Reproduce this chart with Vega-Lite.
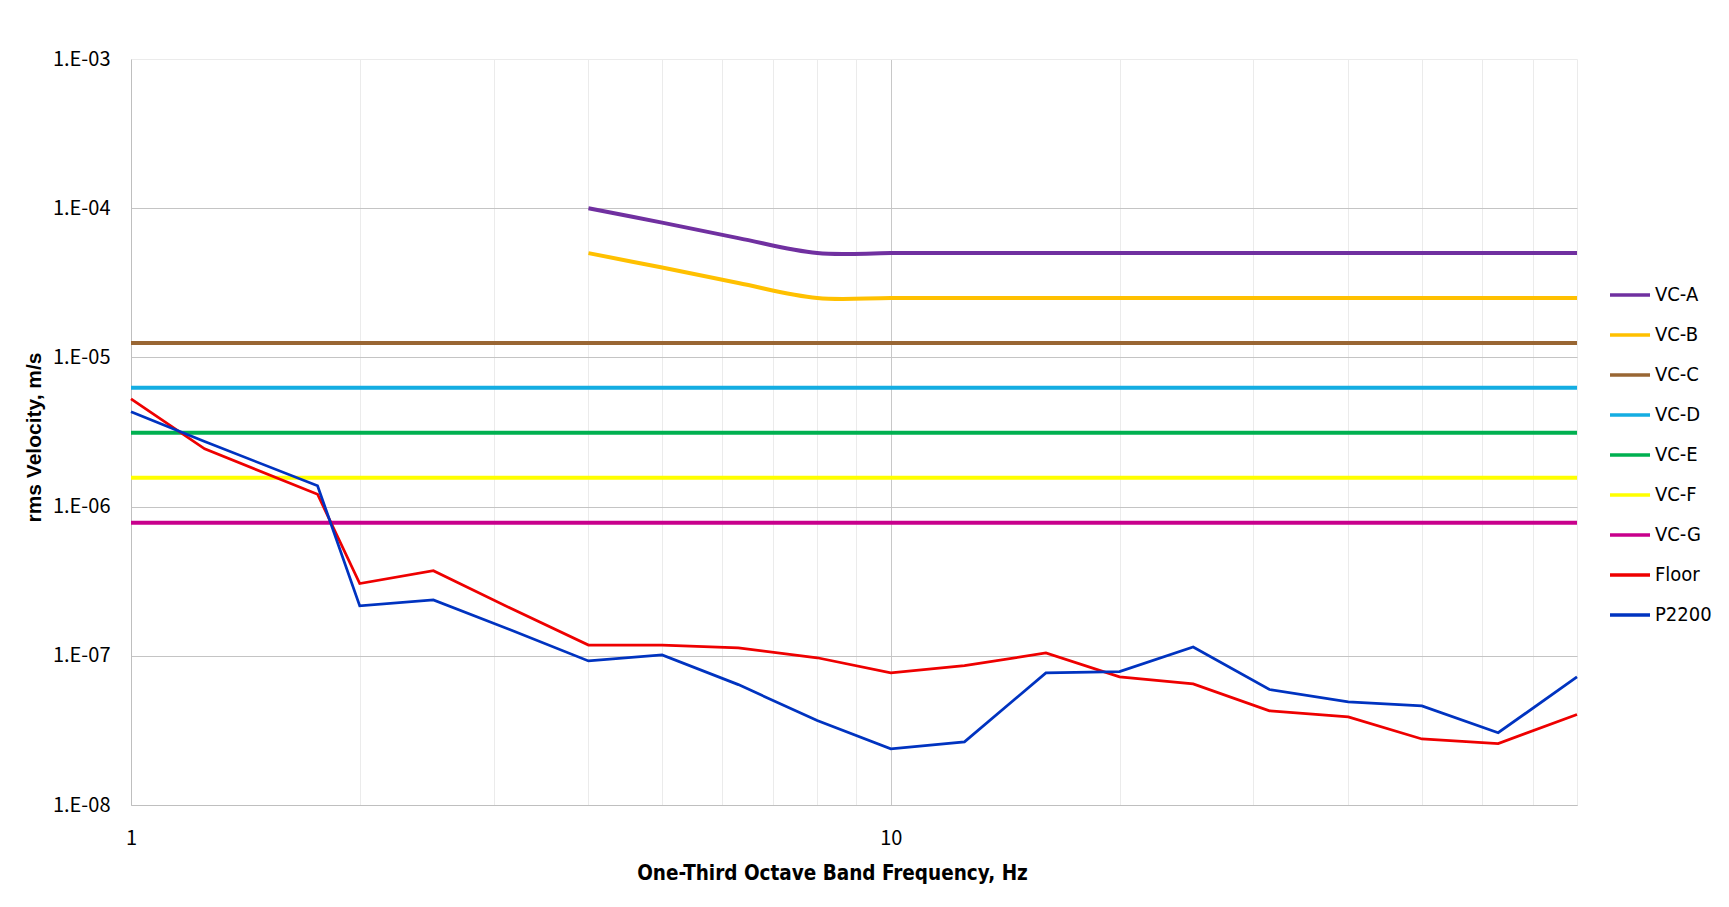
{
  "$schema": "https://vega.github.io/schema/vega-lite/v6.json",
  "width": 1446,
  "height": 746,
  "autosize": {"type": "none"},
  "padding": {"left": 131, "top": 59, "right": 152, "bottom": 102},
  "background": "white",
  "data": {
    "values": [
      {"series": "VC-A", "freq": 4, "v": 1.0e-4},
      {"series": "VC-A", "freq": 5, "v": 8.0e-5},
      {"series": "VC-A", "freq": 6.3, "v": 6.3e-5},
      {"series": "VC-A", "freq": 8, "v": 5.0e-5},
      {"series": "VC-A", "freq": 10, "v": 5.0e-5},
      {"series": "VC-A", "freq": 12.5, "v": 5.0e-5},
      {"series": "VC-A", "freq": 16, "v": 5.0e-5},
      {"series": "VC-A", "freq": 20, "v": 5.0e-5},
      {"series": "VC-A", "freq": 25, "v": 5.0e-5},
      {"series": "VC-A", "freq": 31.5, "v": 5.0e-5},
      {"series": "VC-A", "freq": 40, "v": 5.0e-5},
      {"series": "VC-A", "freq": 50, "v": 5.0e-5},
      {"series": "VC-A", "freq": 63, "v": 5.0e-5},
      {"series": "VC-A", "freq": 80, "v": 5.0e-5},
      {"series": "VC-B", "freq": 4, "v": 5.0e-5},
      {"series": "VC-B", "freq": 5, "v": 4.0e-5},
      {"series": "VC-B", "freq": 6.3, "v": 3.15e-5},
      {"series": "VC-B", "freq": 8, "v": 2.5e-5},
      {"series": "VC-B", "freq": 10, "v": 2.5e-5},
      {"series": "VC-B", "freq": 12.5, "v": 2.5e-5},
      {"series": "VC-B", "freq": 16, "v": 2.5e-5},
      {"series": "VC-B", "freq": 20, "v": 2.5e-5},
      {"series": "VC-B", "freq": 25, "v": 2.5e-5},
      {"series": "VC-B", "freq": 31.5, "v": 2.5e-5},
      {"series": "VC-B", "freq": 40, "v": 2.5e-5},
      {"series": "VC-B", "freq": 50, "v": 2.5e-5},
      {"series": "VC-B", "freq": 63, "v": 2.5e-5},
      {"series": "VC-B", "freq": 80, "v": 2.5e-5},
      {"series": "VC-C", "freq": 1, "v": 1.25e-5},
      {"series": "VC-C", "freq": 80, "v": 1.25e-5},
      {"series": "VC-D", "freq": 1, "v": 6.25e-6},
      {"series": "VC-D", "freq": 80, "v": 6.25e-6},
      {"series": "VC-E", "freq": 1, "v": 3.125e-6},
      {"series": "VC-E", "freq": 80, "v": 3.125e-6},
      {"series": "VC-F", "freq": 1, "v": 1.5625e-6},
      {"series": "VC-F", "freq": 80, "v": 1.5625e-6},
      {"series": "VC-G", "freq": 1, "v": 7.8e-7},
      {"series": "VC-G", "freq": 80, "v": 7.8e-7},
      {"series": "Floor", "freq": 1, "v": 5.28e-6},
      {"series": "Floor", "freq": 1.25, "v": 2.44e-6},
      {"series": "Floor", "freq": 1.76, "v": 1.21e-6},
      {"series": "Floor", "freq": 2, "v": 3.05e-7},
      {"series": "Floor", "freq": 2.5, "v": 3.72e-7},
      {"series": "Floor", "freq": 3.15, "v": 2.1e-7},
      {"series": "Floor", "freq": 4, "v": 1.18e-7},
      {"series": "Floor", "freq": 5, "v": 1.18e-7},
      {"series": "Floor", "freq": 6.3, "v": 1.13e-7},
      {"series": "Floor", "freq": 8, "v": 9.7e-8},
      {"series": "Floor", "freq": 10, "v": 7.68e-8},
      {"series": "Floor", "freq": 12.5, "v": 8.6e-8},
      {"series": "Floor", "freq": 16, "v": 1.045e-7},
      {"series": "Floor", "freq": 20, "v": 7.22e-8},
      {"series": "Floor", "freq": 25, "v": 6.48e-8},
      {"series": "Floor", "freq": 31.5, "v": 4.28e-8},
      {"series": "Floor", "freq": 40, "v": 3.9e-8},
      {"series": "Floor", "freq": 50, "v": 2.77e-8},
      {"series": "Floor", "freq": 63, "v": 2.58e-8},
      {"series": "Floor", "freq": 80, "v": 4.04e-8},
      {"series": "P2200", "freq": 1, "v": 4.32e-6},
      {"series": "P2200", "freq": 1.25, "v": 2.73e-6},
      {"series": "P2200", "freq": 1.76, "v": 1.38e-6},
      {"series": "P2200", "freq": 2, "v": 2.16e-7},
      {"series": "P2200", "freq": 2.5, "v": 2.37e-7},
      {"series": "P2200", "freq": 3.15, "v": 1.5e-7},
      {"series": "P2200", "freq": 4, "v": 9.24e-8},
      {"series": "P2200", "freq": 5, "v": 1.014e-7},
      {"series": "P2200", "freq": 6.3, "v": 6.41e-8},
      {"series": "P2200", "freq": 8, "v": 3.68e-8},
      {"series": "P2200", "freq": 10, "v": 2.38e-8},
      {"series": "P2200", "freq": 12.5, "v": 2.65e-8},
      {"series": "P2200", "freq": 16, "v": 7.68e-8},
      {"series": "P2200", "freq": 20, "v": 7.83e-8},
      {"series": "P2200", "freq": 25, "v": 1.146e-7},
      {"series": "P2200", "freq": 31.5, "v": 5.94e-8},
      {"series": "P2200", "freq": 40, "v": 4.91e-8},
      {"series": "P2200", "freq": 50, "v": 4.62e-8},
      {"series": "P2200", "freq": 63, "v": 3.05e-8},
      {"series": "P2200", "freq": 80, "v": 7.22e-8}
    ]
  },
  "encoding": {
    "x": {
      "field": "freq",
      "type": "quantitative",
      "scale": {"type": "log", "domain": [1, 80]},
      "axis": {
        "values": [1, 2, 3, 4, 5, 6, 7, 8, 9, 10, 20, 30, 40, 50, 60, 70, 80],
        "labelExpr": "datum.value == 1 ? '1' : datum.value == 10 ? '10' : ''",
        "labelFlush": false,
        "labelOverlap": false,
        "grid": true,
        "gridColor": {"condition": {"test": "datum.value == 10", "value": "#c8c8c8"}, "value": "#ebebeb"},
        "ticks": false,
        "domainColor": "#bfbfbf",
        "labelFont": "Noto Sans CJK KR",
        "labelFontSize": 20,
        "labelColor": "#000000",
        "labelPadding": 23,
        "title": "One-Third Octave Band Frequency, Hz",
        "titleFont": "DejaVu Sans Condensed, Roboto, sans-serif",
        "titleFontWeight": "bold",
        "titleFontSize": 20.5,
        "titleColor": "#000000",
        "titleX": 701,
        "titleY": 68,
        "titleAlign": "center",
        "titleBaseline": "middle"
      }
    },
    "y": {
      "field": "v",
      "type": "quantitative",
      "scale": {"type": "log", "domain": [1e-8, 1e-3]},
      "axis": {
        "values": [1e-8, 1e-7, 1e-6, 1e-5, 1e-4, 1e-3],
        "labelExpr": "'1.E-0' + round(-log(datum.value) / LN10)",
        "grid": true,
        "gridColor": {"condition": {"test": "datum.value > 5e-4", "value": "#ebebeb"}, "value": "#c4c4c4"},
        "ticks": false,
        "domainColor": "#bfbfbf",
        "labelFont": "Noto Sans CJK KR",
        "labelFontSize": 20,
        "labelColor": "#000000",
        "labelPadding": 21,
        "title": "rms Velocity, m/s",
        "titleFont": "Liberation Sans",
        "titleFontWeight": "bold",
        "titleFontSize": 21,
        "titleColor": "#000000",
        "titleX": -97,
        "titleY": 378,
        "titleAlign": "center",
        "titleBaseline": "middle"
      }
    },
    "color": {
      "field": "series",
      "type": "nominal",
      "scale": {
        "domain": ["VC-A", "VC-B", "VC-C", "VC-D", "VC-E", "VC-F", "VC-G", "Floor", "P2200"],
        "range": ["#7030a0", "#ffc000", "#996633", "#14ade2", "#00b050", "#ffff00", "#c8008c", "#ee0000", "#0033c0"]
      },
      "legend": {
        "orient": "none",
        "legendX": 1477,
        "legendY": 214,
        "title": null,
        "symbolType": "stroke",
        "symbolSize": 1600,
        "symbolStrokeWidth": 3.5,
        "labelFont": "DejaVu Sans Condensed, Roboto, sans-serif",
        "labelFontSize": 20,
        "labelColor": "#000000",
        "labelOffset": 3,
        "rowPadding": 8,
        "labelLimit": 200
      }
    }
  },
  "layer": [
    {
      "transform": [{"filter": {"field": "series", "oneOf": ["VC-A", "VC-B", "VC-C", "VC-D", "VC-E", "VC-F", "VC-G"]}}],
      "mark": {"type": "line", "interpolate": "catmull-rom", "strokeWidth": 4}
    },
    {
      "transform": [{"filter": {"field": "series", "oneOf": ["Floor", "P2200"]}}],
      "mark": {"type": "line", "strokeWidth": 2.75}
    }
  ],
  "config": {"view": {"stroke": null}}
}
